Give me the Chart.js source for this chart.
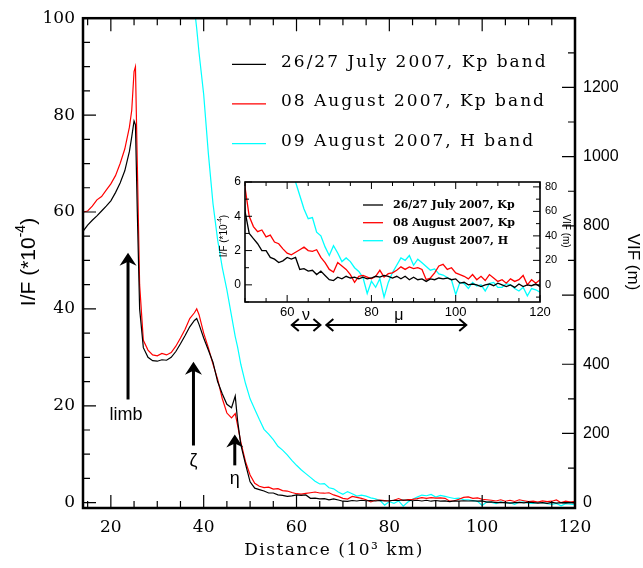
<!DOCTYPE html>
<html>
<head>
<meta charset="utf-8">
<script src="https://cdn.jsdelivr.net/npm/chart.js@4.4.1/dist/chart.umd.min.js"></script>
<style>
  html, body { margin: 0; padding: 0; background: #fff; }
  #wrap { position: relative; width: 643px; height: 568px; }
  #main { position: absolute; left: 0; top: 0; }
  #inset { position: absolute; left: 200px; top: 170px; }
</style>
</head>
<body>
<div id="wrap">
  <canvas id="main" width="643" height="568"></canvas>
  <canvas id="inset" width="400" height="170"></canvas>
</div>
<script>
// Distance (10^3 km)
const distance = [
  14, 15, 16, 17, 18, 19, 20, 21, 22, 23, 24,
  24.5, 25, 25.3, 25.7, 26.2,
  27, 28, 29, 30, 31, 32, 33, 34, 35, 36, 37, 38,
  38.5,
  39, 40, 41, 42, 43, 44, 45, 46,
  46.8, 47.3,
  48, 49, 50, 51, 52, 53, 54, 55, 56, 57,
  58, 59, 60, 61, 62, 63, 64, 65, 66, 67,
  68, 69, 70, 71, 72, 73, 74, 75, 76, 77,
  78, 79, 80, 81, 82, 83, 84, 85, 86, 87,
  88, 89, 90, 91, 92, 93, 94, 95, 96, 97,
  98, 99, 100, 101, 102, 103, 104, 105, 106, 107,
  108, 109, 110, 111, 112, 113, 114, 115, 116, 117,
  118, 119, 120
];

// I/F (*10^-4), 26/27 July 2007, Kp band
const julyKp = [
  56, 57.3, 58.3, 59.2, 60.2, 61.2, 62.3, 64, 66, 68.5, 72.5,
  75.5, 78.8, 78, 60, 40,
  32, 30, 29.3, 29.2, 29.5, 29.4, 30, 31.2, 32.8, 34.5, 36.3, 37.6,
  38,
  36.8, 34, 31.5, 29, 25, 22.5, 20.3, 19.6,
  22, 17,
  12, 8, 4.3, 3.0, 2.7, 2.4, 2.0, 2.0, 1.6, 1.5,
  1.3, 1.4, 1.6, 1.5, 1.6, 0.9, 0.95, 0.8, 0.85, 0.6,
  0.8, 0.55, 0.3, 0.25, 0.45, 0.35, 0.5, 0.4, 0.45, 0.35,
  0.45, 0.35, 0.4, 0.5, 0.45, 0.55, 0.5, 0.4, 0.5, 0.35,
  0.5, 0.3, 0.45, 0.3, 0.35, 0.2, 0.35, 0.3, 0.4, 0.35,
  0.4, 0.3, 0.35, 0.1, 0.15, 0, 0.05, 0, -0.1, 0,
  0.05, -0.05, 0.1, 0, -0.1, 0, -0.15, 0.05, -0.1, 0,
  -0.05, 0.05, -0.1
];

// I/F (*10^-4), 08 August 2007, Kp band
const augKp = [
  60, 60.2, 61.2, 62.5, 63.2, 64.5, 65.8, 67.5, 70, 73, 77.5,
  81, 89, 90, 70, 45,
  33.5, 31.5, 30.5, 30.3, 30.8, 30.5, 31, 32.3, 34, 35.8, 38, 39.2,
  40,
  38.8, 35, 32, 28.6, 25.5, 21.5, 18.5, 17.5,
  18.4, 16,
  12.5, 8.5, 5.7, 4.0, 3.4, 3.1, 3.2, 2.8, 2.9, 2.5,
  2.4, 2.1, 1.85, 1.75, 1.9, 2.05, 2.2, 2.0, 1.95, 2.05,
  1.6, 1.3, 0.9, 0.75, 1.3, 1.1, 0.9, 0.6, 0.15, 0.5,
  0.55, 0.45, 0.35, 0.5, 0.85, 0.45, 0.65, 0.7, 0.85, 1.05,
  0.9, 1.05, 0.95, 1.0, 0.9, 0.3, 0.4, 0.7, 1.1, 1.2,
  0.9, 1.0, 0.7, 0.6, 0.5, 0.35, 0.6, 0.3, 0.5, 0.25,
  0.6, 0.4, 0.2, 0.3, 0.1, 0.35, 0.2, 0.3, 0.55, 0,
  0.3, 0.1, 0.3
];

// VIF (m), 09 August 2007, H band
const augH = [
  null, null, null, null, null, null, null, null, null, null, null,
  null, null, null, null, null,
  null, null, null, null, null, null, null, null, null, null, null, 1430,
  1370,
  1300, 1180, 1010, 865, 760, 680, 615, 540,
  480, 450,
  400, 345, 300, 270, 240, 212, 198, 182, 163, 152,
  138, 122, 108, 95, 84, 73, 62, 54, 55, 43,
  40, 31, 24, 32, 26, 19, 22, 19, 14, 11,
  6, -7, 3, -2, 5, -10, 2, 10, 16, 22,
  20, 24, 16, 21, 18, 15, 12, 13, 9, 8,
  6, 4, -8, 2, 1, -3, 2, -1, 0, -5,
  1, 2, -2, -2, 1, 0, -3, -5, -2, -9,
  -3, -4, -6
];

const seriesLabels = ['26/27 July 2007, Kp band', '08 August 2007, Kp band', '09 August 2007, H band'];
const insetLabels = ['26/27 July 2007, Kp', '08 August 2007, Kp', '09 August 2007, H'];
const seriesColors = ['#000000', '#ff0000', '#00ffff'];

const mainXTicks = [20, 40, 60, 80, 100, 120];
const mainYTicks = [0, 20, 40, 60, 80, 100];
const mainVifTicks = [0, 200, 400, 600, 800, 1000, 1200];
const insetXTicks = [60, 80, 100, 120];
const insetYTicks = [0, 2, 4, 6];
const insetVifTicks = [0, 20, 40, 60, 80];

function toPoints(ys) {
  return distance.map((x, i) => ({ x: x, y: ys[i] })).filter(p => p.y !== null);
}

function makeDatasets(labels, width) {
  return [julyKp, augKp, augH].map((ys, i) => ({
    label: labels[i],
    data: toPoints(ys),
    borderColor: seriesColors[i],
    borderWidth: width,
    pointRadius: 0,
    tension: 0,
    yAxisID: i === 2 ? 'y2' : 'y'
  }));
}

function fixedTicks(list) {
  return axis => { axis.ticks = list.map(v => ({ value: v })); };
}

const plainLabel = v => String(v);

// inward tick marks + box
function tickValues(scale, step, major) {
  const out = [];
  for (let k = Math.ceil(scale.min / step - 1e-9); k * step <= scale.max + 1e-9; k++) {
    const v = k * step;
    out.push([v, Math.abs(Math.round(v / major) * major - v) < 1e-6]);
  }
  return out;
}

const framePlugin = {
  id: 'frame',
  beforeDraw(chart, args, opts) {
    if (!opts.fill) return;
    const a = chart.chartArea;
    chart.ctx.save();
    chart.ctx.fillStyle = '#fff';
    chart.ctx.fillRect(a.left, a.top, a.width, a.height);
    chart.ctx.restore();
  },
  afterDatasetsDraw(chart, args, opts) {
    const { ctx, chartArea: a, scales } = chart;
    ctx.save();
    ctx.strokeStyle = '#000';
    ctx.lineWidth = opts.tickWidth;
    ctx.beginPath();
    tickValues(scales.x, opts.x[0], opts.x[1]).forEach(([v, big]) => {
      const p = scales.x.getPixelForValue(v), l = big ? opts.long : opts.short;
      ctx.moveTo(p, a.bottom); ctx.lineTo(p, a.bottom - l);
      ctx.moveTo(p, a.top); ctx.lineTo(p, a.top + l);
    });
    tickValues(scales.y, opts.y[0], opts.y[1]).forEach(([v, big]) => {
      const p = scales.y.getPixelForValue(v), l = big ? opts.long : opts.short;
      ctx.moveTo(a.left, p); ctx.lineTo(a.left + l, p);
    });
    tickValues(scales.y2, opts.y2[0], opts.y2[1]).forEach(([v, big]) => {
      const p = scales.y2.getPixelForValue(v), l = big ? opts.long : opts.short;
      ctx.moveTo(a.right, p); ctx.lineTo(a.right - l, p);
    });
    ctx.stroke();
    ctx.lineWidth = opts.frame;
    ctx.strokeRect(a.left, a.top, a.width, a.height);
    ctx.restore();
  }
};

function upArrow(ctx, x, yTip, yTail) {
  ctx.beginPath();
  ctx.lineWidth = 3;
  ctx.moveTo(x, yTail);
  ctx.lineTo(x, yTip + 8);
  ctx.stroke();
  ctx.beginPath();
  ctx.moveTo(x, yTip);
  ctx.lineTo(x + 8.5, yTip + 13);
  ctx.lineTo(x, yTip + 9);
  ctx.lineTo(x - 8.5, yTip + 13);
  ctx.closePath();
  ctx.fill();
}

function doubleArrow(ctx, x1, x2, y) {
  ctx.beginPath();
  ctx.lineWidth = 2;
  ctx.moveTo(x1, y); ctx.lineTo(x2, y);
  ctx.moveTo(x1 + 7, y - 6); ctx.lineTo(x1, y); ctx.lineTo(x1 + 7, y + 6);
  ctx.moveTo(x2 - 7, y - 6); ctx.lineTo(x2, y); ctx.lineTo(x2 - 7, y + 6);
  ctx.stroke();
}

function ifTitle(ctx, cx, cy, size, supSize, rise) {
  const base = size + 'px "Liberation Sans"', sup = supSize + 'px "Liberation Sans"';
  const parts = [['I/F (*10', base, 0], ['-4', sup, -rise], [')', base, 0]];
  ctx.save();
  ctx.translate(cx, cy);
  ctx.rotate(-Math.PI / 2);
  ctx.textBaseline = 'middle';
  ctx.textAlign = 'left';
  let total = 0;
  parts.forEach(p => { ctx.font = p[1]; total += ctx.measureText(p[0]).width; });
  let x = -total / 2;
  parts.forEach(p => { ctx.font = p[1]; ctx.fillText(p[0], x, p[2]); x += ctx.measureText(p[0]).width; });
  ctx.restore();
}

function vifTitle(ctx, cx, cy, size) {
  ctx.save();
  ctx.translate(cx, cy);
  ctx.rotate(Math.PI / 2);
  ctx.font = size + 'px "Liberation Sans"';
  ctx.textAlign = 'center';
  ctx.textBaseline = 'middle';
  ctx.fillText('VIF (m)', 0, 0);
  ctx.restore();
}

// feature markers on the main plot, in data units
const callouts = [
  { name: 'limb', x: 23.7, tip: 51.6, tail: 21.3, textY: 18 },
  { name: 'ζ', x: 37.8, tip: 29.1, tail: 11.8, textY: 8.6 },
  { name: 'η', x: 46.7, tip: 14.05, tail: 7.7, textY: 4.9 }
];

const mainDecor = {
  id: 'mainDecor',
  afterDraw(chart) {
    const { ctx, scales } = chart;
    ctx.save();
    ctx.fillStyle = '#000';
    ctx.strokeStyle = '#000';

    ctx.font = '17px "DejaVu Serif"';
    ctx.letterSpacing = '1.5px';
    ctx.textAlign = 'center';
    ctx.textBaseline = 'middle';
    ctx.fillText('Distance (10³ km)', 334, 551);
    ctx.letterSpacing = '0px';

    ifTitle(ctx, 29, 262, 21, 14, 8);
    vifTitle(ctx, 633, 262, 17);

    // legend
    const rows = [64.3, 103.9, 143.6];
    chart.data.datasets.forEach((ds, i) => {
      ctx.beginPath();
      ctx.lineWidth = 1.3;
      ctx.strokeStyle = ds.borderColor;
      ctx.moveTo(232, rows[i]); ctx.lineTo(266, rows[i]);
      ctx.stroke();
      ctx.font = '17px "DejaVu Serif"';
      ctx.letterSpacing = '2px';
      ctx.textAlign = 'left';
      ctx.textBaseline = 'alphabetic';
      ctx.fillStyle = '#000';
      ctx.fillText(ds.label, 281, rows[i] + 2.3);
      ctx.letterSpacing = '0px';
    });

    ctx.strokeStyle = '#000';
    ctx.fillStyle = '#000';
    callouts.forEach(c => {
      const x = scales.x.getPixelForValue(c.x);
      upArrow(ctx, x, scales.y.getPixelForValue(c.tip), scales.y.getPixelForValue(c.tail));
      ctx.font = '18px "Liberation Sans"';
      ctx.textAlign = 'center';
      ctx.textBaseline = 'middle';
      ctx.fillText(c.name, c.name === 'limb' ? x - 2 : x, scales.y.getPixelForValue(c.textY));
    });
    ctx.restore();
  }
};

// regions marked under the inset, in distance units
const insetSpans = [
  { name: 'ν', from: 61.1, to: 67.9, at: 64.5 },
  { name: 'μ', from: 69.3, to: 102.5, at: 86.5 }
];

const insetDecor = {
  id: 'insetDecor',
  afterDraw(chart) {
    const { ctx, scales } = chart;
    ctx.save();
    const rows = [35, 52.7, 70.7];
    chart.data.datasets.forEach((ds, i) => {
      ctx.beginPath();
      ctx.lineWidth = 1.3;
      ctx.strokeStyle = ds.borderColor;
      ctx.moveTo(163, rows[i]); ctx.lineTo(183, rows[i]);
      ctx.stroke();
      ctx.font = 'bold 11px "DejaVu Serif"';
      ctx.textAlign = 'left';
      ctx.textBaseline = 'alphabetic';
      ctx.fillStyle = '#000';
      ctx.fillText(ds.label, 193, rows[i] + 3);
    });
    ctx.fillStyle = '#000';
    ctx.strokeStyle = '#000';
    ifTitle(ctx, 24, 66, 10, 7, 4);
    vifTitle(ctx, 366, 61, 10);
    insetSpans.forEach(s => {
      doubleArrow(ctx, scales.x.getPixelForValue(s.from), scales.x.getPixelForValue(s.to), 155);
      ctx.font = '16px "Liberation Sans"';
      ctx.textAlign = 'center';
      ctx.textBaseline = 'middle';
      ctx.fillText(s.name, scales.x.getPixelForValue(s.at), 146);
    });
    ctx.restore();
  }
};

Chart.defaults.color = '#000';

new Chart(document.getElementById('main'), {
  type: 'line',
  data: { datasets: makeDatasets(seriesLabels, 1.2) },
  options: {
    responsive: false,
    animation: false,
    layout: { padding: { top: 16, left: 0, right: 0, bottom: 0 } },
    plugins: {
      legend: { display: false },
      tooltip: { enabled: false },
      frame: { fill: false, tickWidth: 1.2, frame: 2.5, long: 13, short: 7, x: [5, 20], y: [5, 20], y2: [100, 200] }
    },
    scales: {
      x: {
        type: 'linear', min: 14, max: 120,
        afterBuildTicks: fixedTicks(mainXTicks),
        afterFit: a => { a.height = 60; },
        grid: { display: false, drawTicks: false },
        border: { display: false },
        ticks: { font: { family: 'DejaVu Serif', size: 17 }, padding: 9, maxRotation: 0, autoSkip: false, callback: plainLabel }
      },
      y: {
        type: 'linear', position: 'left', min: -1.1, max: 100,
        afterBuildTicks: fixedTicks(mainYTicks),
        afterFit: a => { a.width = 83; },
        grid: { display: false, drawTicks: false },
        border: { display: false },
        ticks: { font: { family: 'DejaVu Serif', size: 17 }, padding: 8, autoSkip: false, callback: plainLabel }
      },
      y2: {
        type: 'linear', position: 'right', min: -15.4, max: 1400,
        afterBuildTicks: fixedTicks(mainVifTicks),
        afterFit: a => { a.width = 68; },
        grid: { display: false, drawTicks: false },
        border: { display: false },
        ticks: { font: { family: 'Liberation Sans', size: 16 }, padding: 8, autoSkip: false, callback: plainLabel }
      }
    }
  },
  plugins: [framePlugin, mainDecor]
});

new Chart(document.getElementById('inset'), {
  type: 'line',
  data: { datasets: makeDatasets(insetLabels, 1.3) },
  options: {
    responsive: false,
    animation: false,
    layout: { padding: { top: 12, left: 0, right: 0, bottom: 0 } },
    plugins: {
      legend: { display: false },
      tooltip: { enabled: false },
      frame: { fill: true, tickWidth: 1, frame: 1.6, long: 7, short: 4, x: [5, 20], y: [1, 2], y2: [10, 20] }
    },
    scales: {
      x: {
        type: 'linear', min: 50, max: 120,
        afterBuildTicks: fixedTicks(insetXTicks),
        afterFit: a => { a.height = 38; },
        grid: { display: false, drawTicks: false },
        border: { display: false },
        ticks: { font: { family: 'Liberation Sans', size: 13 }, padding: 3, maxRotation: 0, autoSkip: false, callback: plainLabel }
      },
      y: {
        type: 'linear', position: 'left', min: -1, max: 6,
        afterBuildTicks: fixedTicks(insetYTicks),
        afterFit: a => { a.width = 45; },
        grid: { display: false, drawTicks: false },
        border: { display: false },
        ticks: { font: { family: 'Liberation Sans', size: 12 }, padding: 4, autoSkip: false, callback: plainLabel }
      },
      y2: {
        type: 'linear', position: 'right', min: -14, max: 84,
        afterBuildTicks: fixedTicks(insetVifTicks),
        afterFit: a => { a.width = 60; },
        grid: { display: false, drawTicks: false },
        border: { display: false },
        ticks: { font: { family: 'Liberation Sans', size: 11 }, padding: 5, autoSkip: false, callback: plainLabel }
      }
    }
  },
  plugins: [framePlugin, insetDecor]
});
</script>
</body>
</html>
